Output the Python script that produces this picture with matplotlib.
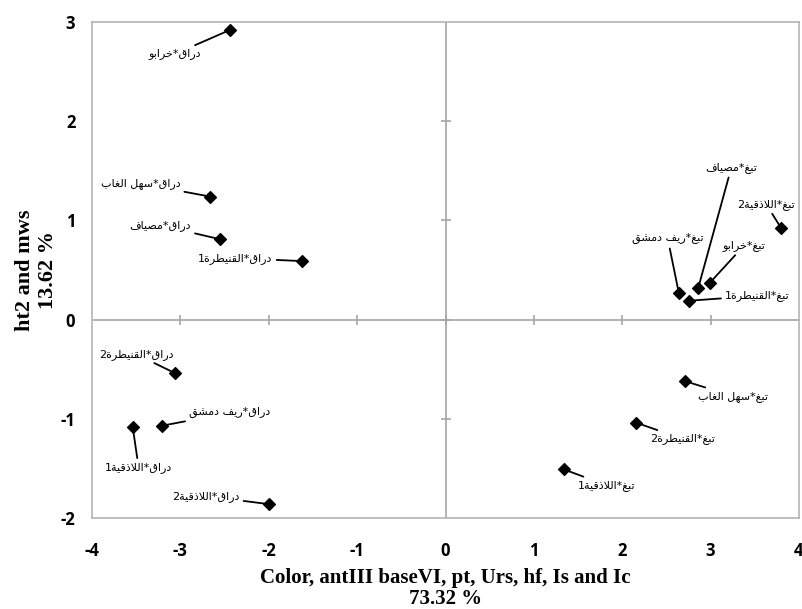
import matplotlib
matplotlib.use("Agg")
import matplotlib.pyplot as plt

plt.rcParams['axes.unicode_minus'] = False

# PCA scores (axis 1 vs axis 2)
names = ['دراق*خرابو', 'دراق*سهل الغاب', 'دراق*مصياف', 'دراق*القنيطرة1',
         'تبغ*مصياف', 'تبغ*اللاذقية2', 'تبغ*خرابو', 'تبغ*ريف دمشق', 'تبغ*القنيطرة1',
         'دراق*القنيطرة2', 'دراق*ريف دمشق', 'دراق*اللاذقية1', 'دراق*اللاذقية2',
         'تبغ*سهل الغاب', 'تبغ*القنيطرة2', 'تبغ*اللاذقية1']
pc1 = [-2.44, -2.66, -2.55, -1.62,
       2.86, 3.80, 2.99, 2.64, 2.75,
       -3.06, -3.21, -3.54, -2.00,
       2.71, 2.16, 1.34]
pc2 = [2.92, 1.24, 0.81, 0.59,
       0.32, 0.92, 0.37, 0.27, 0.19,
       -0.54, -1.07, -1.08, -1.86,
       -0.62, -1.04, -1.51]
# label offsets from the point, in pixels
offsets = [(-55, -24), (-70, 13), (-60, 14), (-67, 3),
           (33, 120), (-15, 24), (34, 37), (-11, 54), (69, 5),
           (-39, 19), (68, 13), (6, -41), (-63, 8),
           (48, -15), (46, -16), (43, -16)]

xticks = [-4, -3, -2, -1, 0, 1, 2, 3, 4]
yticks = [-2, -1, 0, 1, 2, 3]

# simple Arabic shaping: (isolated, final, initial, medial)
FORMS = {
    'ا': (0xFE8D, 0xFE8E, None, None), 'ب': (0xFE8F, 0xFE90, 0xFE91, 0xFE92),
    'ة': (0xFE93, 0xFE94, None, None), 'ت': (0xFE95, 0xFE96, 0xFE97, 0xFE98),
    'خ': (0xFEA5, 0xFEA6, 0xFEA7, 0xFEA8), 'د': (0xFEA9, 0xFEAA, None, None),
    'ذ': (0xFEAB, 0xFEAC, None, None), 'ر': (0xFEAD, 0xFEAE, None, None),
    'س': (0xFEB1, 0xFEB2, 0xFEB3, 0xFEB4), 'ش': (0xFEB5, 0xFEB6, 0xFEB7, 0xFEB8),
    'ص': (0xFEB9, 0xFEBA, 0xFEBB, 0xFEBC), 'ط': (0xFEC1, 0xFEC2, 0xFEC3, 0xFEC4),
    'غ': (0xFECD, 0xFECE, 0xFECF, 0xFED0), 'ف': (0xFED1, 0xFED2, 0xFED3, 0xFED4),
    'ق': (0xFED5, 0xFED6, 0xFED7, 0xFED8), 'ل': (0xFEDD, 0xFEDE, 0xFEDF, 0xFEE0),
    'م': (0xFEE1, 0xFEE2, 0xFEE3, 0xFEE4), 'ن': (0xFEE5, 0xFEE6, 0xFEE7, 0xFEE8),
    'ه': (0xFEE9, 0xFEEA, 0xFEEB, 0xFEEC), 'و': (0xFEED, 0xFEEE, None, None),
    'ي': (0xFEF1, 0xFEF2, 0xFEF3, 0xFEF4),
}


def shape(s):
    # merge lam + alef
    chars = []
    i = 0
    while i < len(s):
        if s[i] == 'ل' and i + 1 < len(s) and s[i + 1] == 'ا':
            chars.append('LA')
            i += 2
        else:
            chars.append(s[i])
            i += 1

    def joins_next(c):
        return c in FORMS and FORMS[c][2] is not None

    def arabic(c):
        return c in FORMS or c == 'LA'

    out = []
    for k, c in enumerate(chars):
        prev = chars[k - 1] if k > 0 else None
        nxt = chars[k + 1] if k + 1 < len(chars) else None
        from_prev = prev is not None and joins_next(prev)
        if c == 'LA':
            out.append(chr(0xFEFC if from_prev else 0xFEFB))
            continue
        if c not in FORMS:
            out.append(c)
            continue
        iso, fin, ini, med = FORMS[c]
        to_next = ini is not None and nxt is not None and arabic(nxt)
        if from_prev and to_next:
            out.append(chr(med))
        elif from_prev:
            out.append(chr(fin))
        elif to_next:
            out.append(chr(ini))
        else:
            out.append(chr(iso))
    return ''.join(reversed(out))


fig = plt.figure(figsize=(8.03, 6.09), dpi=100)
ax = fig.add_axes([0.1146, 0.1494, 0.8804, 0.8144])
ax.set_xlim(-4, 4)
ax.set_ylim(-2, 3)

for sp in ax.spines.values():
    sp.set_color('#b4b4b4')
    sp.set_linewidth(1.2)

ax.axhline(0, color='#a6a6a6', lw=1.2, zorder=1)
ax.axvline(0, color='#a6a6a6', lw=1.2, zorder=1)
# tick marks sitting on the zero lines
ax.plot(xticks[1:-1], [0] * (len(xticks) - 2), ls='none', marker='|',
        ms=7, mew=1.2, color='#a6a6a6', zorder=1)
ax.plot([0] * len(yticks[1:-1]), yticks[1:-1], ls='none', marker='_',
        ms=7, mew=1.2, color='#a6a6a6', zorder=1)

ax.scatter(pc1, pc2, marker='D', s=36, color='black', zorder=3)

for name, x, y, (dx, dy) in zip(names, pc1, pc2, offsets):
    ax.annotate(shape(name), xy=(x, y), xytext=(dx, dy), textcoords='offset pixels',
                ha='center', va='center', fontsize=8, family='DejaVu Sans',
                arrowprops=dict(arrowstyle='-', color='black', lw=1.3,
                                shrinkA=1, shrinkB=3))

ax.set_xticks(xticks)
ax.set_yticks(yticks)
ax.tick_params(length=0)
ax.tick_params(axis='x', pad=17)
ax.tick_params(axis='y', pad=12)
for lab in ax.get_xticklabels() + ax.get_yticklabels():
    lab.set_fontfamily('Open Sans')
    lab.set_fontweight('bold')
    lab.set_fontsize(12)

ax.set_xlabel('Color, antIII baseVI, pt, Urs, hf, Is and Ic\n73.32 %',
              family='Liberation Serif', fontweight='bold', fontsize=15,
              linespacing=1.05, labelpad=6)
ax.set_ylabel('ht2 and mws\n13.62 %', family='Liberation Serif',
              fontweight='bold', fontsize=16, linespacing=1.15, labelpad=2)

fig.savefig('out.png', dpi=100)
